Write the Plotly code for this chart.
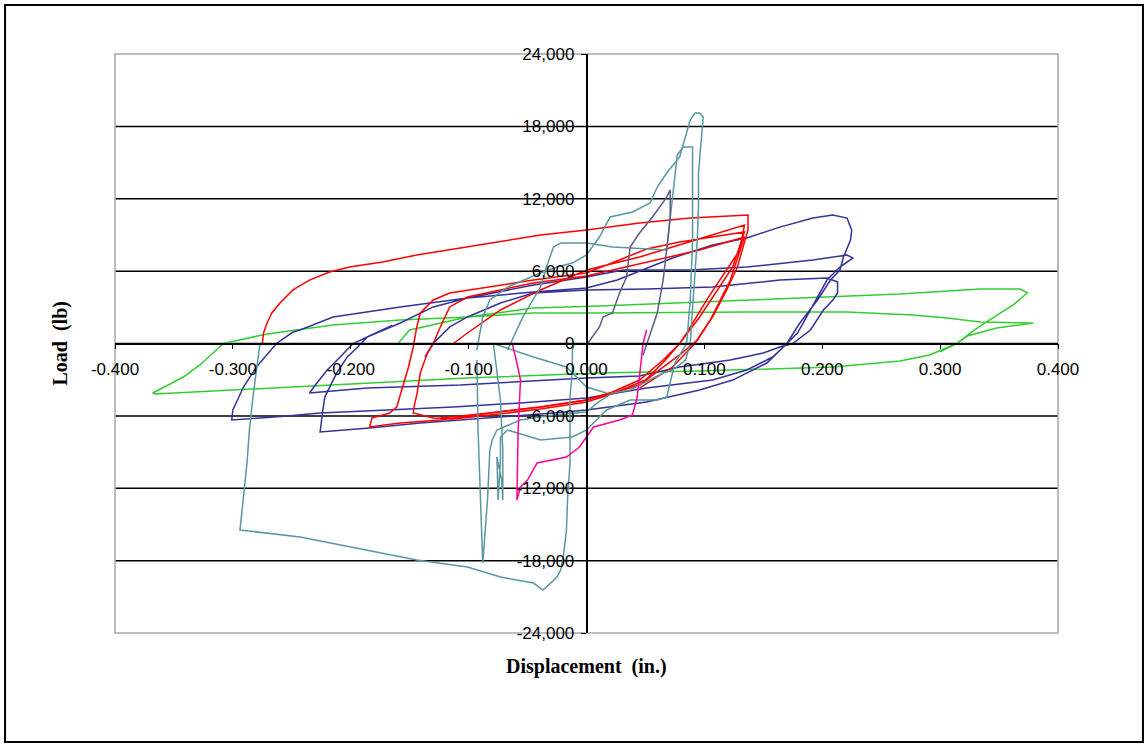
import plotly.graph_objects as go

# ---------------- axis ticks ----------------
X_TICKS = [-0.4, -0.3, -0.2, -0.1, 0.0, 0.1, 0.2, 0.3, 0.4]
X_TICK_TEXT = ["-0.400", "-0.300", "-0.200", "-0.100", "0.000", "0.100", "0.200", "0.300", "0.400"]
Y_TICKS = [-24000, -18000, -12000, -6000, 0, 6000, 12000, 18000, 24000]
Y_TICK_TEXT = ["-24,000", "-18,000", "-12,000", "-6,000", "0", "6,000", "12,000", "18,000", "24,000"]

# ---------------- series (displacement in., load lb) ----------------
GREEN = [(-0.160, 0), (-0.150, 1120), (-0.101, 2200), (-0.045, 2940), (0.011, 3110), (0.096, 3440),
         (0.181, 3770), (0.266, 4100), (0.334, 4520), (0.368, 4520), (0.374, 4190), (0.362, 3200),
         (0.342, 1950), (0.328, 1040), (0.314, 0), (0.291, -950), (0.266, -1450), (0.209, -1950),
         (0.096, -2280), (0.011, -2450), (-0.101, -2860), (-0.215, -3440), (-0.328, -4020),
         (-0.366, -4190), (-0.368, -4100), (-0.342, -2780), (-0.328, -1780), (-0.308, 0),
         (-0.271, 790), (-0.215, 1530), (-0.158, 1950), (-0.101, 2200), (-0.045, 2530), (0.011, 2530),
         (0.136, 2610), (0.221, 2610), (0.277, 2360), (0.306, 2110), (0.334, 1780), (0.379, 1700),
         (0.348, 1280), (0.323, 620), (0.314, 0), (0.300, -700)]

BLUE = [(-0.137, -1100), (-0.130, 0), (-0.116, 1370), (-0.101, 2200), (-0.073, 3360), (-0.045, 4190),
        (0.000, 4440), (0.051, 4520), (0.107, 4680), (0.164, 5260), (0.204, 5430), (0.213, 5100),
        (0.213, 4190), (0.209, 3610), (0.201, 2780), (0.190, 1120), (0.175, 0), (0.164, -290),
        (0.150, -790), (0.122, -1370), (0.079, -1950), (0.045, -2690), (0.000, -2860),
        (-0.107, -3440), (-0.186, -3690), (-0.235, -4100),
        (-0.230, -3440), (-0.220, -2200), (-0.209, -1120), (-0.198, 0), (-0.186, 540),
        (-0.158, 1700), (-0.130, 3030), (-0.101, 3770), (-0.045, 4850), (0.000, 5510),
        (0.031, 6090), (0.088, 6090), (0.136, 6340), (0.192, 6920), (0.221, 7340), (0.226, 7090),
        (0.215, 6340), (0.204, 5260), (0.190, 2780), (0.179, 870), (0.170, 0), (0.158, -1120),
        (0.136, -2200), (0.107, -3030), (0.051, -3690), (0.000, -4520), (-0.056, -4930),
        (-0.113, -5260), (-0.169, -5510), (-0.226, -5760), (-0.254, -6010), (-0.283, -6180),
        (-0.301, -6340),
        (-0.300, -5510), (-0.296, -4680), (-0.291, -3610), (-0.280, -1950), (-0.266, -290),
        (-0.263, 0), (-0.249, 950), (-0.243, 1120), (-0.215, 2200), (-0.158, 3030), (-0.101, 3770),
        (-0.045, 4270), (0.000, 4600), (0.026, 5260), (0.073, 7090), (0.107, 8170), (0.136, 8750),
        (0.164, 9650), (0.192, 10400), (0.209, 10650), (0.221, 10400), (0.225, 9400), (0.224, 8580),
        (0.218, 7170), (0.215, 6090), (0.207, 5260), (0.196, 3610), (0.181, 1700), (0.170, 0),
        (0.153, -1620), (0.124, -3030), (0.096, -3850), (0.051, -4850), (0.000, -5510),
        (-0.028, -5760), (-0.084, -6180), (-0.141, -6590), (-0.184, -7000), (-0.226, -7340),
        (-0.224, -5760), (-0.222, -4440), (-0.212, -2450), (-0.203, -1120), (-0.194, -290),
        (-0.186, 540), (-0.165, 1500)]

RED_A = [(-0.113, 0), (-0.101, 870), (-0.073, 2780), (-0.039, 4440), (0.000, 6090), (0.045, 7170),
         (0.073, 8000), (0.130, 9660), (0.134, 9820), (0.130, 7750), (0.102, 3610), (0.085, 870),
         (0.079, 0), (0.065, -1370), (0.045, -3030), (0.022, -4020), (0.000, -4680), (-0.039, -5260),
         (-0.082, -5760), (-0.124, -6340), (-0.158, -6590), (-0.184, -6920),
         (-0.182, -6180), (-0.167, -5760), (-0.161, -5260), (-0.156, -3610), (-0.151, -1950),
         (-0.147, -290), (-0.144, 1370), (-0.141, 2530), (-0.130, 3610), (-0.116, 4190),
         (-0.088, 4600), (-0.045, 5260), (0.000, 5840), (0.022, 6670), (0.051, 7830), (0.079, 8410),
         (0.107, 8830), (0.134, 9240),
         (0.124, 6340), (0.096, 2200), (0.079, 0), (0.067, -1370), (0.050, -3030), (0.024, -4100),
         (0.000, -4850), (-0.039, -5430), (-0.082, -5930), (-0.113, -6260), (-0.130, -6180),
         (-0.141, -5930), (-0.147, -5760),
         (-0.146, -5100), (-0.144, -4270), (-0.141, -2450), (-0.135, -790), (-0.130, 0),
         (-0.124, 1370), (-0.116, 3030), (-0.101, 3850), (-0.073, 4440), (-0.045, 5020),
         (0.000, 5600), (0.051, 6760), (0.096, 7750), (0.134, 8830),
         (0.122, 5260), (0.105, 1950), (0.092, 0), (0.073, -1950), (0.045, -3690)]

RED_B = [(-0.275, 0), (-0.274, 870), (-0.271, 1700), (-0.267, 2530), (-0.260, 3360), (-0.249, 4440),
         (-0.235, 5260), (-0.218, 5930), (-0.201, 6340), (-0.173, 6760), (-0.144, 7340),
         (-0.107, 7920), (-0.039, 8990), (0.000, 9410), (0.045, 9990), (0.088, 10400), (0.137, 10650),
         (0.137, 9410), (0.133, 8000), (0.128, 6340), (0.119, 4440), (0.107, 2200), (0.094, 290),
         (0.079, -950), (0.065, -1950), (0.045, -3440), (0.022, -4100), (0.000, -4680),
         (-0.039, -5260), (-0.082, -5760), (-0.124, -6180)]

TEAL_1 = [(-0.277, 0), (-0.280, -2200), (-0.283, -4440), (-0.286, -7170), (-0.288, -9910),
          (-0.291, -12730), (-0.294, -15460), (-0.243, -16040), (-0.186, -17120), (-0.144, -17950),
          (-0.101, -18530), (-0.073, -19360), (-0.045, -19860), (-0.037, -20440), (-0.034, -20190),
          (-0.028, -19610), (-0.025, -19360), (-0.022, -18780), (-0.020, -17950), (-0.017, -15460),
          (-0.016, -12730), (-0.014, -9910), (-0.014, -6590), (-0.014, -4440), (-0.012, -2200),
          (-0.012, -540), (-0.010, 0)]

TEAL_2 = [(-0.093, -540), (-0.088, 2200), (-0.082, 3610), (-0.067, 4680), (-0.039, 5840),
          (-0.025, 6340), (-0.012, 6670), (0.000, 7340), (0.011, 8830), (0.020, 10490), (0.039, 10900),
          (0.054, 11650), (0.060, 12970), (0.068, 14130), (0.079, 15460), (0.088, 18530),
          (0.092, 19110), (0.096, 19110), (0.099, 18780), (0.098, 17700), (0.095, 14130),
          (0.095, 11320), (0.094, 8580), (0.092, 5840), (0.090, 2780), (0.088, 0), (0.084, -1370),
          (0.073, -2200), (0.065, -2450), (0.037, -3850), (0.022, -4100), (0.009, -4930),
          (0.000, -5680), (-0.028, -5930), (-0.056, -6340), (-0.076, -7170), (-0.080, -8000),
          (-0.082, -8830), (-0.084, -12970), (-0.088, -18200), (-0.089, -15460), (-0.090, -12730),
          (-0.092, -7170), (-0.093, -1370)]

TEAL_3 = [(-0.067, -540), (-0.054, 2200), (-0.039, 4680), (-0.034, 6340), (-0.028, 8000),
          (-0.022, 8330), (0.000, 8330), (0.022, 8000), (0.068, 7750), (0.073, 11900), (0.077, 15630),
          (0.082, 16290), (0.090, 16290), (0.090, 14130), (0.090, 8580), (0.088, 3610), (0.085, 0),
          (0.075, -1620), (0.068, -4440), (0.060, -4680), (0.037, -4680), (0.017, -5510),
          (0.000, -7170), (-0.012, -7750), (-0.039, -8000), (-0.067, -7170), (-0.073, -7750),
          (-0.073, -9660), (-0.075, -12970), (-0.076, -9410), (-0.072, -11320), (-0.071, -12970),
          (-0.071, -8830), (-0.073, -4680), (-0.076, -2200), (-0.079, 0), (-0.045, -1120),
          (-0.017, -1950), (0.000, -3610), (0.017, -4100)]

SLATE = [(0.001, 0), (0.003, 290), (0.011, 1370), (0.014, 2200), (0.022, 2530), (0.028, 4190),
         (0.034, 5510), (0.037, 8000), (0.045, 9160), (0.056, 10490), (0.068, 12140), (0.071, 12730),
         (0.071, 10490), (0.068, 7750), (0.065, 5260), (0.060, 2530), (0.051, 0), (0.048, -950)]

MAGENTA = [(-0.069, 0), (-0.063, 0), (-0.059, -1620), (-0.056, -3030), (-0.058, -7170),
           (-0.059, -11320), (-0.059, -12970), (-0.056, -11900), (-0.050, -11320), (-0.042, -9910),
           (-0.028, -9660), (-0.017, -9410), (-0.006, -8580), (0.000, -7750), (0.006, -6920),
           (0.028, -6340), (0.039, -5930), (0.043, -4440), (0.045, -2780), (0.047, -1120),
           (0.048, 0), (0.051, 1120)]

SERIES = [
    ("green", GREEN, "#33CC33"),
    ("blue", BLUE, "#333399"),
    ("red A", RED_A, "#FF0000"),
    ("red B", RED_B, "#FF0000"),
    ("teal 1", TEAL_1, "#5A97A0"),
    ("teal 2", TEAL_2, "#5A97A0"),
    ("teal 3", TEAL_3, "#5A97A0"),
    ("slate", SLATE, "#5C5C85"),
    ("magenta", MAGENTA, "#FF0099"),
]

fig = go.Figure()
for name, pts, color in SERIES:
    fig.add_trace(go.Scatter(
        x=[p[0] for p in pts], y=[p[1] for p in pts], mode="lines", name=name,
        line=dict(color=color, width=1.5), hoverinfo="skip", showlegend=False))

tick_font = dict(family="Liberation Sans, Arial, sans-serif", size=17, color="black")
title_font = dict(family="Liberation Serif, Times New Roman, serif", size=20, color="black")

fig.update_layout(
    width=1146, height=749,
    margin=dict(l=115, r=88, t=54, b=116),
    paper_bgcolor="white", plot_bgcolor="white", showlegend=False,
    xaxis=dict(range=[-0.4, 0.4], tickvals=X_TICKS, ticktext=X_TICK_TEXT, showgrid=False,
               zeroline=False, showline=True, linecolor="black", linewidth=1.5,
               ticks="outside", ticklen=5, tickwidth=1, tickcolor="black",
               anchor="free", position=0.5, tickfont=tick_font, ticklabelstandoff=5),
    yaxis=dict(range=[-24000, 24000], tickvals=Y_TICKS, ticktext=Y_TICK_TEXT, showgrid=False,
               zeroline=False, showline=True, linecolor="black", linewidth=1.5,
               ticks="outside", ticklen=5, tickwidth=1, tickcolor="black",
               anchor="free", position=0.5, tickfont=tick_font, ticklabelstandoff=3),
)

# horizontal gridlines at interior ticks
for v in Y_TICKS[1:-1]:
    fig.add_shape(type="line", xref="paper", x0=0, x1=1, yref="y", y0=v, y1=v,
                  line=dict(color="black", width=1.5), layer="below")
# plot area border
fig.add_shape(type="rect", xref="paper", yref="paper", x0=0, x1=1, y0=0, y1=1,
              line=dict(color="#A8A8A8", width=1.5), layer="below")
# chart area border
fig.add_shape(type="rect", xref="paper", yref="paper", x0=-0.1166, x1=1.0901, y0=-0.1883, y1=1.0846,
              line=dict(color="black", width=2))

fig.add_annotation(text="Displacement\u00a0 (in.)", xref="paper", yref="paper", x=0.5, y=-0.0587,
                   showarrow=False, font=title_font, xanchor="center", yanchor="middle")
fig.add_annotation(text="Load\u00a0 (lb)", xref="paper", yref="paper", x=-0.0583, y=0.5,
                   showarrow=False, font=title_font, textangle=-90, xanchor="center", yanchor="middle")
for a in fig.layout.annotations:
    a.font.weight = "bold"

fig.write_html("out.html", config={"displayModeBar": False},
               post_script="document.body.style.margin='0';document.body.style.overflow='hidden';")
